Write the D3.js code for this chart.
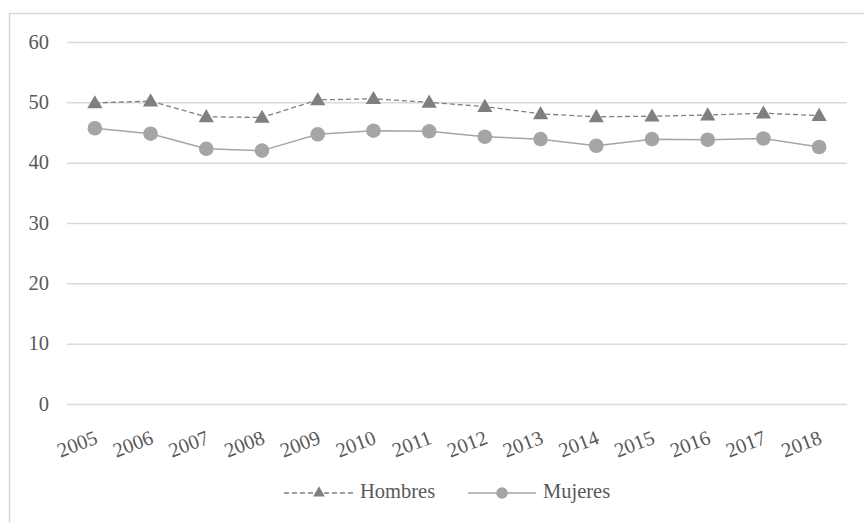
<!DOCTYPE html>
<html>
<head>
<meta charset="utf-8">
<script src="https://cdn.jsdelivr.net/npm/d3@7"></script>
<style>
  html, body { margin: 0; padding: 0; background: #fff; }
  svg { display: block; }
</style>
</head>
<body>
<svg id="chart" width="864" height="523"></svg>
<script>
// Años y series
const years = ["2005","2006","2007","2008","2009","2010","2011","2012","2013","2014","2015","2016","2017","2018"];
const hombres = [49.9, 50.2, 47.6, 47.5, 50.4, 50.6, 50.0, 49.3, 48.1, 47.6, 47.7, 47.9, 48.2, 47.8];
const mujeres = [45.7, 44.8, 42.3, 42.0, 44.7, 45.3, 45.2, 44.3, 43.9, 42.8, 43.9, 43.8, 44.0, 42.6];
const yTicks = [0, 10, 20, 30, 40, 50, 60];

const svg = d3.select("#chart");
const textColor = "#595959";
const gridColor = "#d9d9d9";
const hColor = "#7f7f7f";
const mColor = "#a5a5a5";
const serif = "Liberation Serif";
const fs = 20.5;

// Marco del gráfico
svg.append("rect")
  .attr("x", 9.5).attr("y", 13.5)
  .attr("width", 900).attr("height", 600)
  .attr("fill", "none").attr("stroke", gridColor).attr("stroke-width", 1.5);

const plot = { left: 67, right: 847, top: 42, bottom: 404 };

const x = d3.scaleBand().domain(years).range([plot.left, plot.right]);
const y = d3.scaleLinear().domain([0, 60]).range([plot.bottom, plot.top]);
const cx = d => x(d) + x.bandwidth() / 2;

// Líneas de cuadrícula y etiquetas del eje Y
const yAxis = d3.axisLeft(y).tickValues(yTicks)
  .tickSize(-(plot.right - plot.left)).tickPadding(18).tickFormat(d3.format("d"));
const gy = svg.append("g").attr("transform", `translate(${plot.left},0)`).call(yAxis);
gy.attr("font-family", serif).attr("font-size", fs);
gy.select(".domain").remove();
gy.selectAll(".tick line").attr("stroke", gridColor).attr("stroke-width", 1.5);
gy.selectAll(".tick text").attr("fill", textColor).attr("dy", "0.3em");

// Etiquetas del eje X, inclinadas
const xAxis = d3.axisBottom(x).tickSize(0).tickPadding(0);
const gx = svg.append("g").attr("transform", `translate(0,${plot.bottom})`).call(xAxis);
gx.attr("font-family", serif).attr("font-size", fs);
gx.select(".domain").remove();
gx.selectAll(".tick text")
  .attr("fill", textColor)
  .attr("text-anchor", "end")
  .attr("dy", null)
  .attr("transform", "translate(4,39) rotate(-21)");

// Serie Hombres (discontinua con triángulos)
const line = d3.line().x((d, i) => cx(years[i])).y(d => y(d));
svg.append("path").datum(hombres)
  .attr("d", line).attr("fill", "none")
  .attr("stroke", hColor).attr("stroke-width", 1.3).attr("stroke-dasharray", "5,3");

// Serie Mujeres (continua con círculos)
svg.append("path").datum(mujeres)
  .attr("d", line).attr("fill", "none")
  .attr("stroke", mColor).attr("stroke-width", 1.5);

const tri = d3.symbol().type(d3.symbolTriangle).size(100);
svg.append("g").selectAll("path").data(hombres).join("path")
  .attr("d", tri)
  .attr("transform", (d, i) => `translate(${cx(years[i])},${y(d) + 1})`)
  .attr("fill", hColor);

svg.append("g").selectAll("circle").data(mujeres).join("circle")
  .attr("cx", (d, i) => cx(years[i])).attr("cy", d => y(d)).attr("r", 7.3)
  .attr("fill", mColor);

// Leyenda
const legend = svg.append("g").attr("font-family", serif).attr("font-size", fs);
const ly = 493;
legend.append("line").attr("x1", 284).attr("x2", 353).attr("y1", ly).attr("y2", ly)
  .attr("stroke", hColor).attr("stroke-width", 1.3).attr("stroke-dasharray", "5,3");
legend.append("path").attr("d", d3.symbol().type(d3.symbolTriangle).size(60))
  .attr("transform", `translate(319,${ly})`).attr("fill", hColor);
legend.append("text").attr("x", 360).attr("y", 498).text("Hombres").attr("fill", textColor);

legend.append("line").attr("x1", 468).attr("x2", 536).attr("y1", ly).attr("y2", ly)
  .attr("stroke", mColor).attr("stroke-width", 1.5);
legend.append("circle").attr("cx", 502).attr("cy", ly).attr("r", 5.8).attr("fill", mColor);
legend.append("text").attr("x", 543).attr("y", 498).text("Mujeres").attr("fill", textColor);
</script>
</body>
</html>
